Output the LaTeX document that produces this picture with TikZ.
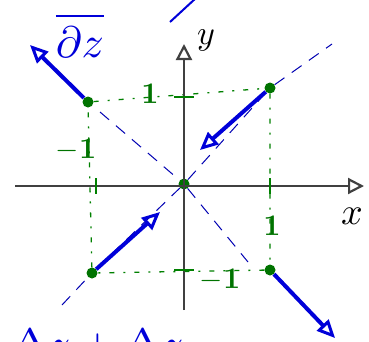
\documentclass[tikz,border=0pt]{standalone}
\usepackage{amsmath,amssymb}
\usepackage{tikz}
\usetikzlibrary{arrows.meta}

\begin{document}
\begin{tikzpicture}[
      x=1pt, y=-1pt,
      axis/.style={-{Triangle[open,length=16pt,width=16pt]}, line width=2.2pt, draw=black!75},
      vec/.style={-{Triangle[open,length=18pt,width=16pt,line width=3pt]}, line width=4pt, draw=blue!85!black},
      dot/.style={circle, fill=green!45!black, inner sep=0pt, minimum size=11pt},
      grid/.style={draw=green!50!black, line width=1.3pt, dash pattern=on 5pt off 9pt on 2pt off 9pt},
      eigen/.style={draw=blue!70!black, line width=1pt, dash pattern=on 12pt off 9pt},
      tick/.style={draw=green!50!black, line width=2.5pt},
      lbl/.style={text=green!45!black, font=\bfseries, scale=3},
      note/.style={text=blue!85!black, scale=4.4}
  ]
  \useasboundingbox (0,0) rectangle (369,341);
  \clip (0,0) rectangle (369,341);

  % Points
  \node (O) [dot] at (184,184) {};
  \node (A) [dot] at (88,102) {};
  \node (B) [dot] at (270,88) {};
  \node (C) [dot] at (270,270) {};
  \node (D) [dot] at (92,273) {};

  % Dashed unit square
  \draw [grid] (A) -- (B) -- (C) -- (D) -- (A);

  % Eigen directions
  \coordinate (e1) at (62,305);
  \coordinate (e2) at (332,44);
  \coordinate (e3) at (100,112);
  \coordinate (e4) at (248,262);
  \draw [eigen] (e1) -- (D) -- (O) -- (B) -- (e2);
  \draw [eigen] (e3) -- (O) -- (e4);

  % Axes
  \coordinate (xs) at (15,186);
  \coordinate (xe) at (364,186);
  \coordinate (ys) at (184,310);
  \coordinate (ye) at (184,44);
  \draw [axis] (xs) -- (xe);
  \draw [axis] (ys) -- (ye);
  \node [scale=3.8] at (352,216) {$x$};
  \node [scale=3.4] at (206,40) {$y$};

  % Ticks and labels
  \draw [tick] (96,178) -- (96,194);
  \draw [tick] (270,178) -- (270,194);
  \draw [tick] (174,97) -- (194,97);
  \draw [tick] (174,270) -- (194,270);
  \node [lbl] at (150,94) {1};
  \node [lbl] at (272,226) {1};
  \node [lbl] at (76,150) {$-$1};
  \node [lbl] at (220,280) {$-$1};

  % Flow vectors
  \coordinate (ta) at (30,45);
  \coordinate (tb) at (200,150);
  \coordinate (tc) at (335,338);
  \coordinate (td) at (160,212);
  \draw [vec] (A) -- (ta);
  \draw [vec] (B) -- (tb);
  \draw [vec] (C) -- (tc);
  \draw [vec] (D) -- (td);

  % Annotations (cut at the page edge)
  \node [note] at (80,12) {$\dfrac{\partial}{\partial z}$};
  \draw [blue!85!black, line width=2pt] (170,22) -- (196,-2);
  \node [note, anchor=north west] at (-4,314) {$\Delta z+\Delta z$};

\end{tikzpicture}
\end{document}
